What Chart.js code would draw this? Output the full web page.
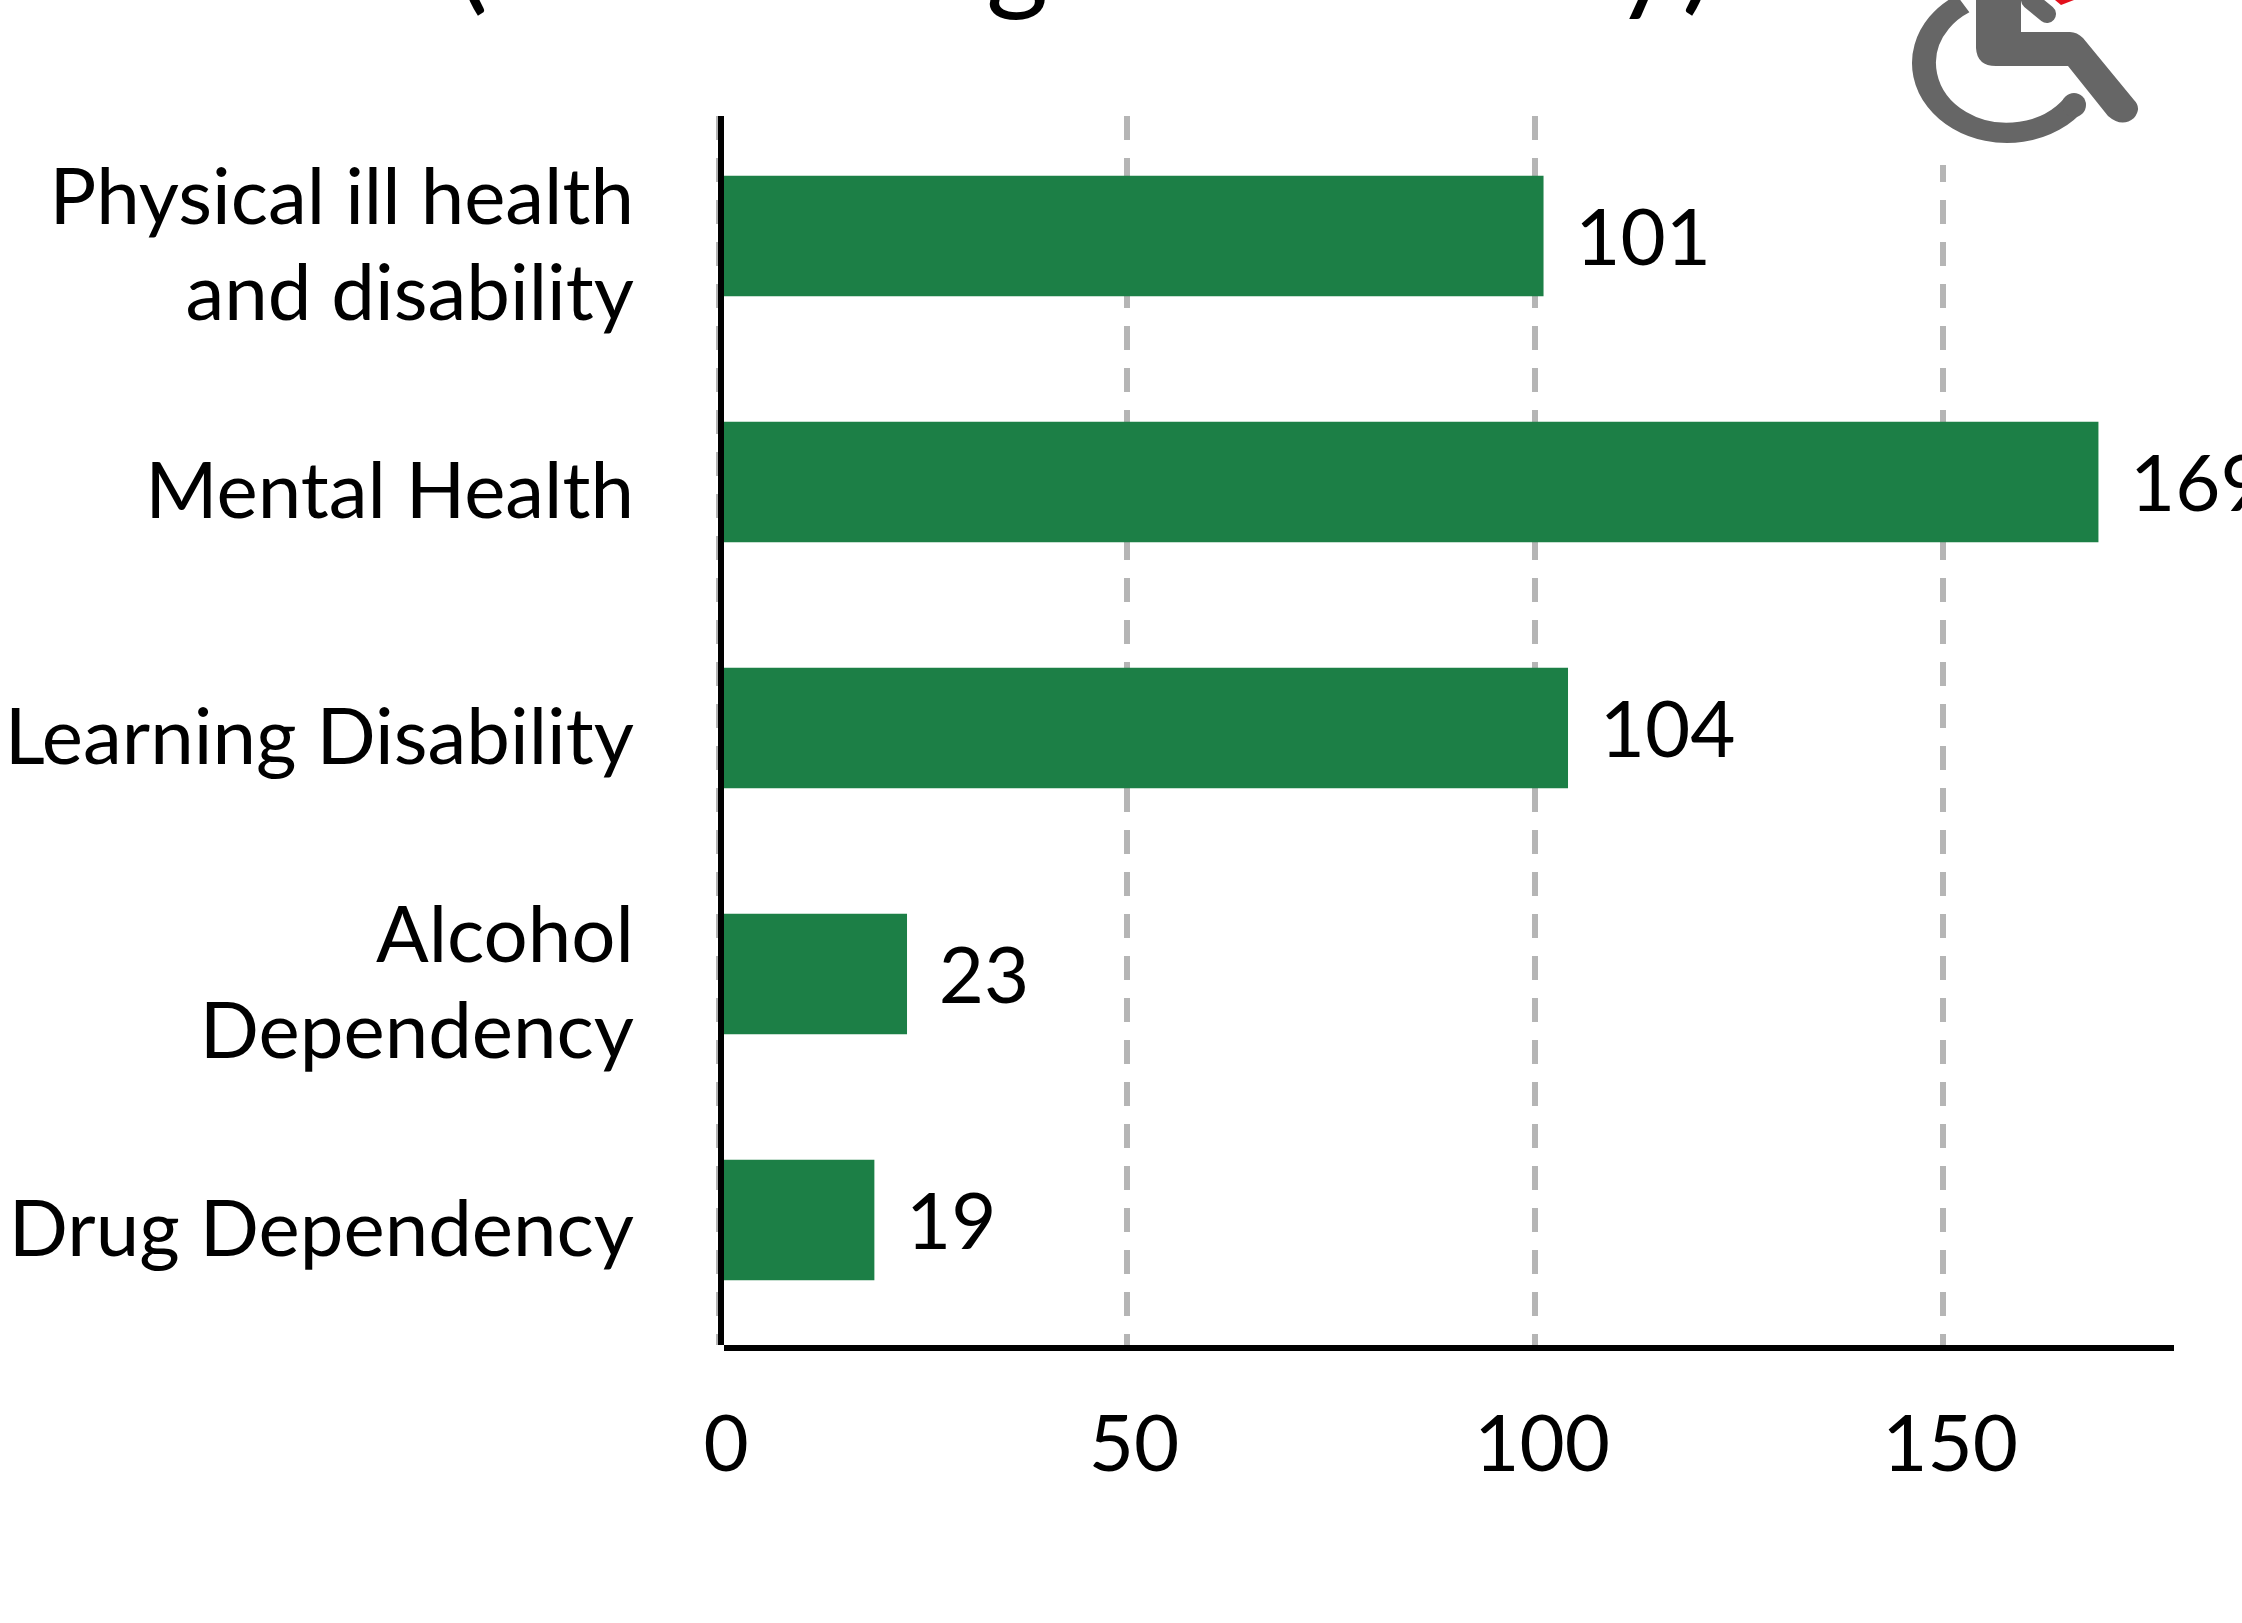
<!DOCTYPE html>
<html>
<head>
<meta charset="utf-8">
<title>Disability chart</title>
<script src="https://cdn.jsdelivr.net/npm/chart.js@4"></script>
<style>
  html, body { margin: 0; padding: 0; background: #fff; overflow: hidden; }
  #wrap { position: relative; width: 2242px; height: 1623px; }
</style>
</head>
<body>
<div id="wrap"><canvas id="chart" width="2242" height="1623"></canvas></div>
<script>
// ── Data ──
const categories = [
  ['Physical ill health', 'and disability'],
  ['Mental Health'],
  ['Learning Disability'],
  ['Alcohol', 'Dependency'],
  ['Drug Dependency'],
];
const values = [101, 169, 104, 23, 19];
const xTicks = [0, 50, 100, 150];
// only the bottom of the title is still inside the picture
const titleGlyphs = ['(', 'g', 'y', ')'];
const titleGlyphX = [456, 986, 1614, 1682];

const FONT = "Lato, 'Noto Sans', sans-serif";
const GREEN = '#1c7f46';
const GRID = '#b5b5b5';

// ── Axis lines sit a bit off the plot corner in the original ──
const axisLines = {
  id: 'axisLines',
  afterDatasetsDraw(chart) {
    const { ctx, chartArea: a } = chart;
    ctx.save();
    ctx.fillStyle = '#000';
    ctx.fillRect(a.left - 1, a.top, 6, a.bottom - a.top);
    ctx.fillRect(a.left + 5, a.bottom, a.right - a.left - 5, 6);
    ctx.restore();
  },
};

// ── Numbers to the right of each bar ──
const barValues = {
  id: 'barValues',
  afterDatasetsDraw(chart) {
    const { ctx } = chart;
    ctx.save();
    ctx.fillStyle = '#000';
    ctx.font = '78px ' + FONT;
    ctx.textAlign = 'left';
    ctx.textBaseline = 'middle';
    chart.getDatasetMeta(0).data.forEach((bar, i) => {
      ctx.fillText(String(values[i]), bar.x + 32, bar.y + 4);
    });
    ctx.restore();
  },
};

// ── Cropped title and the wheelchair picture pasted over the top right ──
const decoration = {
  id: 'decoration',
  afterDraw(chart) {
    const { ctx } = chart;
    ctx.save();
    ctx.fillStyle = '#000';
    ctx.font = '120px ' + FONT;
    ctx.textAlign = 'left';
    ctx.textBaseline = 'alphabetic';
    titleGlyphs.forEach((g, i) => ctx.fillText(g, titleGlyphX[i], -2));

    ctx.fillStyle = '#fff';
    ctx.fillRect(1880, 0, 362, 165);

    ctx.translate(1850, 0);
    ctx.fillStyle = ctx.strokeStyle = '#666';
    // wheel
    ctx.save();
    ctx.translate(157, 63);
    ctx.scale(1, 0.842);
    ctx.lineWidth = 24;
    ctx.beginPath();
    ctx.arc(0, 0, 83, 35 * Math.PI / 180, 238 * Math.PI / 180);
    ctx.stroke();
    ctx.restore();
    // round end of the wheel
    ctx.beginPath();
    ctx.arc(224, 105, 12, 0, Math.PI * 2);
    ctx.fill();
    // body and leg
    ctx.beginPath();
    ctx.moveTo(126, 0);
    ctx.lineTo(126, 48);
    ctx.quadraticCurveTo(127, 66, 146, 66);
    ctx.lineTo(218, 66);
    ctx.lineTo(258, 116);
    ctx.quadraticCurveTo(272, 128, 284, 118);
    ctx.quadraticCurveTo(292, 108, 284, 100);
    ctx.lineTo(233, 38);
    ctx.quadraticCurveTo(227, 32, 220, 32);
    ctx.lineTo(171, 32);
    ctx.lineTo(171, 0);
    ctx.closePath();
    ctx.fill();
    // arm
    ctx.lineWidth = 18;
    ctx.lineCap = 'round';
    ctx.beginPath();
    ctx.moveTo(180, 0);
    ctx.lineTo(197, 14);
    ctx.stroke();
    // red tip
    ctx.fillStyle = '#e3101c';
    ctx.beginPath();
    ctx.moveTo(205, 0);
    ctx.lineTo(211, 5);
    ctx.lineTo(224, 0);
    ctx.closePath();
    ctx.fill();
    ctx.restore();
  },
};

new Chart(document.getElementById('chart'), {
  type: 'bar',
  data: {
    datasets: [{
      data: values.map((v, i) => ({ x: v, y: i })),
      backgroundColor: GREEN,
      barThickness: 120,
    }],
  },
  options: {
    indexAxis: 'y',
    responsive: false,
    animation: false,
    devicePixelRatio: 1,
    layout: { padding: { top: 116, right: 68, left: 0, bottom: 0 } },
    plugins: { legend: { display: false }, title: { display: false }, tooltip: { enabled: false } },
    scales: {
      x: {
        type: 'linear',
        min: 0,
        max: 178.3,
        afterBuildTicks: s => { s.ticks = xTicks.map(v => ({ value: v })); },
        afterFit: s => { s.height = 278; s.paddingLeft = 0; s.paddingRight = 0; },
        grid: {
          color: GRID,
          lineWidth: 6,
          drawTicks: false,
        },
        border: { display: false, dash: [24, 18] },
        ticks: {
          color: '#000',
          font: { family: FONT, size: 78 },
          padding: 54,
          labelOffset: 7,
          maxRotation: 0,
          autoSkip: false,
        },
      },
      y: {
        type: 'linear',
        reverse: true,
        offset: false,
        min: -0.4878,
        max: 4.508,
        afterBuildTicks: s => { s.ticks = categories.map((c, i) => ({ value: i })); },
        afterFit: s => { s.width = 719; s.paddingTop = 0; s.paddingBottom = 0; },
        grid: { display: false, drawTicks: false, offset: false },
        border: { display: false },
        ticks: {
          color: '#000',
          font: { family: FONT, size: 78, lineHeight: 96 / 78 },
          padding: 85,
          labelOffset: 11,
          autoSkip: false,
          callback: v => categories[v],
        },
      },
    },
  },
  plugins: [axisLines, barValues, decoration],
});
</script>
</body>
</html>
